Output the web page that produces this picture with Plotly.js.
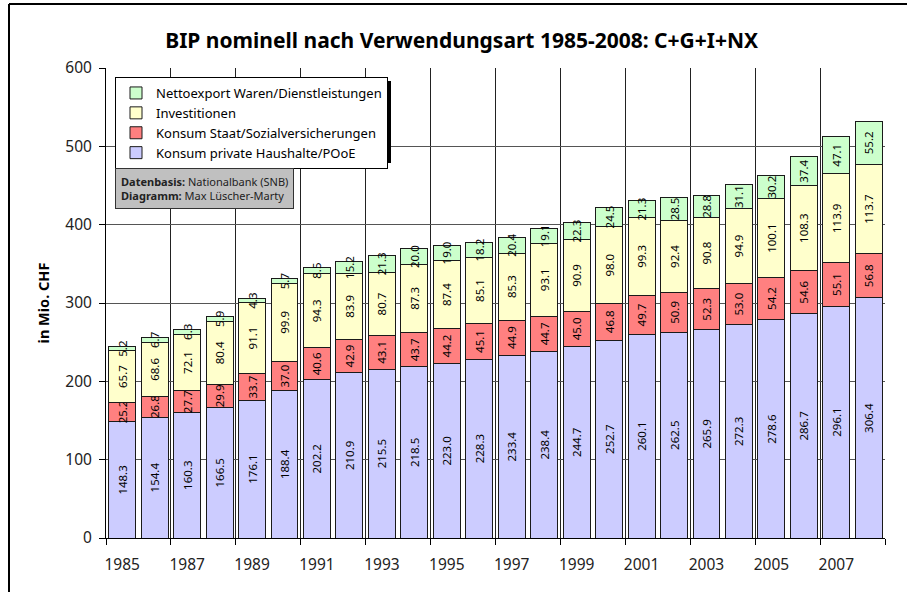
<!DOCTYPE html>
<html>
<head>
<meta charset="utf-8">
<script src="https://cdn.plot.ly/plotly-3.0.1.min.js"></script>
<style>
  html, body { margin: 0; padding: 0; background: #ffffff; }
  #chart { width: 907px; height: 594px; }
</style>
</head>
<body>
<div id="chart"></div>
<script>
// ---- data (Mia. CHF, nominal) ----
const years = [1985,1986,1987,1988,1989,1990,1991,1992,1993,1994,1995,1996,1997,1998,1999,2000,2001,2002,2003,2004,2005,2006,2007,2008];
const konsumPrivat = [148.3,154.4,160.3,166.5,176.1,188.4,202.2,210.9,215.5,218.5,223.0,228.3,233.4,238.4,244.7,252.7,260.1,262.5,265.9,272.3,278.6,286.7,296.1,306.4];
const konsumStaat = [25.2,26.8,27.7,29.9,33.7,37.0,40.6,42.9,43.1,43.7,44.2,45.1,44.9,44.7,45.0,46.8,49.7,50.9,52.3,53.0,54.2,54.6,55.1,56.8];
const investitionen = [65.7,68.6,72.1,80.4,91.1,99.9,94.3,83.9,80.7,87.3,87.4,85.1,85.3,93.1,90.9,98.0,99.3,92.4,90.8,94.9,100.1,108.3,113.9,113.7];
const nettoexport = [5.2,6.7,6.3,5.9,4.3,5.7,8.5,15.2,21.3,20.0,19.0,18.2,20.4,19.1,22.3,24.5,21.3,28.5,28.8,31.1,30.2,37.4,47.1,55.2];
const seriesNames = ["Konsum private Haushalte/POoE","Konsum Staat/Sozialversicherungen","Investitionen","Nettoexport Waren/Dienstleistungen"];
const yTickVals = [0,100,200,300,400,500,600];
const xTickVals = [1985,1987,1989,1991,1993,1995,1997,1999,2001,2003,2005,2007];

const FONT = "'Noto Sans', 'Open Sans', 'DejaVu Sans', sans-serif";
const colors = ["#ccccff","#ff8080","#ffffcc","#ccffcc"];
const seriesData = [konsumPrivat, konsumStaat, investitionen, nettoexport];

// pixel helpers for paper coordinates
const W = 907, H = 594;
const mL = 106, mR = 22, mT = 68, mB = 56;
const pw = W - mL - mR, ph = H - mT - mB;
const px = x => (x - mL) / pw;
const py = y => (H - mB - y) / ph;

const traces = seriesData.map((vals, i) => ({
  type: 'bar',
  name: seriesNames[i],
  x: years,
  y: vals,
  legendgroup: 'g' + i,
  marker: { color: colors[i], line: { color: '#1a1a1a', width: 1 } },
  text: vals.map(v => v.toFixed(1)),
  textposition: 'inside',
  insidetextanchor: 'middle',
  textangle: -90,
  constraintext: 'none',
  cliponaxis: false,
  insidetextfont: { family: FONT, size: 11.5, color: '#000000' },
  hoverinfo: 'skip'
}));

const layout = {
  width: W, height: H,
  margin: { l: mL, r: mR, t: mT, b: mB, pad: 0 },
  paper_bgcolor: '#ffffff',
  plot_bgcolor: '#ffffff',
  barmode: 'stack',
  bargap: 0.17,
  font: { family: FONT, color: '#222222' },
  title: {
    text: '<b>BIP nominell nach Verwendungsart 1985-2008: C+G+I+NX</b>',
    font: { family: FONT, size: 21, color: '#000000' },
    x: 0.509, xanchor: 'center', xref: 'container',
    y: 1 - 41 / H, yanchor: 'middle', yref: 'container'
  },
  xaxis: {
    range: [1984.5, 2008.5],
    tickmode: 'array',
    tickvals: xTickVals,
    ticktext: xTickVals.map(String),
    ticks: '',
    showgrid: false,
    showline: true, linecolor: '#000000', linewidth: 1,
    zeroline: false,
    tickfont: { family: FONT, size: 15.5, color: '#222222' },
    ticklabelstandoff: 12,
    minor: {
      tickmode: 'linear', tick0: 1984.5, dtick: 2,
      ticks: 'outside', ticklen: 6, tickcolor: '#000000', tickwidth: 1,
      showgrid: true, gridcolor: '#222222', gridwidth: 1
    },
    fixedrange: true
  },
  yaxis: {
    range: [0, 600],
    tickmode: 'array',
    tickvals: yTickVals,
    ticks: 'outside', ticklen: 6, tickcolor: '#000000',
    showgrid: true, gridcolor: '#555555', gridwidth: 1,
    showline: true, linecolor: '#000000', linewidth: 1,
    zeroline: false,
    tickfont: { family: FONT, size: 15.5, color: '#222222' },
    ticklabelstandoff: 4,
    title: { text: '<b>in Mio. CHF</b>', font: { family: FONT, size: 14.5, color: '#000000' }, standoff: 12 },
    fixedrange: true
  },
  legend: {
    x: px(115), xanchor: 'left',
    y: py(77), yanchor: 'top',
    traceorder: 'reversed',
    tracegroupgap: 0,
    bgcolor: '#ffffff',
    bordercolor: '#000000', borderwidth: 1,
    font: { family: FONT, size: 13, color: '#000000' },
    itemwidth: 30
  },
  annotations: [{
    xref: 'paper', yref: 'paper',
    x: px(115), xanchor: 'left',
    y: py(168), yanchor: 'top',
    text: '<b>Datenbasis:</b> Nationalbank (SNB)<br><b>Diagramm:</b> Max Lüscher-Marty',
    showarrow: false, align: 'left',
    font: { family: FONT, size: 11, color: '#222222' },
    bgcolor: '#c0c0c0', bordercolor: '#333333', borderwidth: 1, borderpad: 5
  }],
  shapes: [
    // outer frame (left and top)
    { type: 'line', xref: 'paper', yref: 'paper', x0: px(9), x1: px(9), y0: py(4), y1: py(592), line: { color: '#000000', width: 2 } },
    { type: 'line', xref: 'paper', yref: 'paper', x0: px(9), x1: px(907), y0: py(4), y1: py(4), line: { color: '#000000', width: 2 } },
    // legend shadow
    { type: 'rect', xref: 'paper', yref: 'paper', x0: px(119), x1: px(391), y0: py(81), y1: py(163), fillcolor: '#000000', line: { width: 0 }, layer: 'above' }
  ],
  showlegend: true
};

Plotly.newPlot('chart', traces, layout, { staticPlot: true, displayModeBar: false });
</script>
</body>
</html>
